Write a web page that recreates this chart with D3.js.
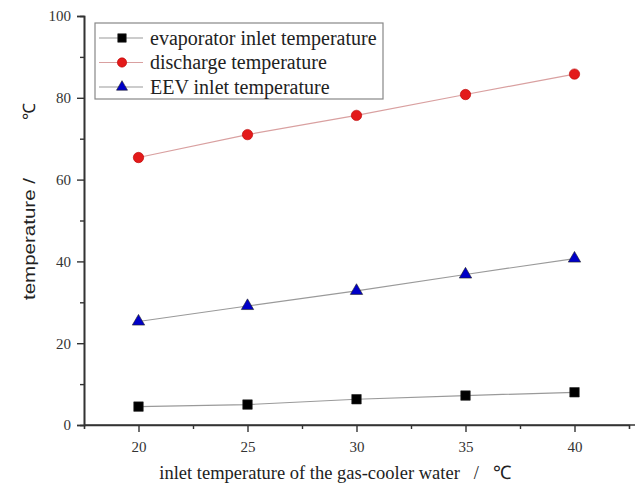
<!DOCTYPE html>
<meta charset="utf-8">
<style>
  body { margin: 0; background: #fff; }
  svg { display: block; }
</style>
<svg width="635" height="494"></svg>
<script src="https://cdn.jsdelivr.net/npm/d3@7"></script>
<script>

    var waterTemps = [20, 25, 30, 35, 40];
    var evaporatorInlet = [4.5, 5.0, 6.3, 7.2, 8.0];
    var discharge = [65.4, 71.0, 75.7, 80.8, 85.8];
    var eevInlet = [25.3, 29.1, 32.8, 36.8, 40.7];
    var seriesNames = ["evaporator inlet temperature", "discharge temperature", "EEV inlet temperature"];
    var xTicks = [20, 25, 30, 35, 40];
    var yTicks = [0, 20, 40, 60, 80, 100];

    var svg = d3.select("svg"),
        serif = "'Liberation Serif', 'Times New Roman', serif",
        sans = "'Liberation Sans', Arial, sans-serif";

    var x = d3.scaleLinear().domain([17.5, 42.5]).range([84, 629]);
    var y = d3.scaleLinear().domain([0, 100]).range([425, 16]);

    // axes, major + minor ticks
    var xAxis = svg.append("g").attr("transform", "translate(0,425)");
    xAxis.call(d3.axisBottom(x).tickValues(xTicks).tickSize(7).tickPadding(9).tickFormat(d3.format("d")));
    xAxis.append("g").call(d3.axisBottom(x).tickValues([22.5, 27.5, 32.5, 37.5]).tickSize(4).tickFormat(""));
    xAxis.select(".domain").attr("d", "M84,0H635");

    var yAxis = svg.append("g").attr("transform", "translate(84,0)");
    yAxis.call(d3.axisLeft(y).tickValues(yTicks).tickSize(7).tickPadding(6).tickFormat(d3.format("d")));
    yAxis.append("g").call(d3.axisLeft(y).tickValues([10, 30, 50, 70, 90]).tickSize(4).tickFormat(""));

    svg.selectAll(".domain").attr("stroke", "#333").attr("stroke-width", 1.6);
    svg.selectAll(".tick line").attr("stroke", "#333").attr("stroke-width", 1.4);
    svg.selectAll(".tick text").attr("font-family", serif).attr("font-size", 15).attr("fill", "#333");

    // axis titles
    svg.append("text")
        .attr("x", 335).attr("y", 479)
        .attr("text-anchor", "middle")
        .attr("font-family", serif).attr("font-size", 18.5).attr("fill", "#222")
        .attr("xml:space", "preserve")
        .text("inlet temperature of the gas-cooler water   /   \u2103");

    svg.append("text")
        .attr("transform", "translate(35,300) rotate(-90)")
        .attr("font-family", sans).attr("font-size", 17).attr("fill", "#222")
        .attr("textLength", 122).attr("lengthAdjust", "spacingAndGlyphs")
        .text("temperature /");

    svg.append("text")
        .attr("transform", "translate(35,111) rotate(-90)")
        .attr("text-anchor", "middle")
        .attr("font-family", serif).attr("font-size", 17).attr("fill", "#222")
        .text("\u2103");

    var series = [
        {name: seriesNames[0], values: evaporatorInlet, line: "#9a9a9a", fill: "#000", shape: d3.symbolSquare, size: 90},
        {name: seriesNames[1], values: discharge, line: "#d9a0a0", fill: "#e31a1a", shape: d3.symbolCircle, size: 85},
        {name: seriesNames[2], values: eevInlet, line: "#9a9a9a", fill: "#0000c8", shape: d3.symbolTriangle, size: 66}
    ];

    var line = d3.line()
        .x(function (d, i) { return x(waterTemps[i]); })
        .y(function (d) { return y(d); });

    series.forEach(function (s) {
        svg.append("path")
            .attr("d", line(s.values))
            .attr("fill", "none")
            .attr("stroke", s.line)
            .attr("stroke-width", 1.2);

        svg.append("g").selectAll("path")
            .data(s.values)
            .join("path")
            .attr("transform", function (d, i) { return "translate(" + x(waterTemps[i]) + "," + y(d) + ")"; })
            .attr("d", d3.symbol().type(s.shape).size(s.size))
            .attr("fill", s.fill)
            .attr("stroke", s.shape === d3.symbolCircle ? "#b00" : "#222")
            .attr("stroke-width", 0.6);
    });

    // legend
    var legend = svg.append("g").attr("transform", "translate(95,23)");
    legend.append("rect")
        .attr("width", 288).attr("height", 76)
        .attr("fill", "#fff").attr("stroke", "#888").attr("stroke-width", 1.2);

    series.forEach(function (s, i) {
        var row = legend.append("g").attr("transform", "translate(0," + (15 + i * 24.5) + ")");
        row.append("line").attr("x1", 4).attr("x2", 48).attr("stroke", s.line).attr("stroke-width", 1.2);
        row.append("path")
            .attr("transform", "translate(27,0)")
            .attr("d", d3.symbol().type(s.shape).size(s.size * 0.8))
            .attr("fill", s.fill)
            .attr("stroke", s.shape === d3.symbolCircle ? "#b00" : "#222")
            .attr("stroke-width", 0.6);
        row.append("text")
            .attr("x", 55).attr("dy", "0.33em")
            .attr("font-family", serif).attr("font-size", 20).attr("fill", "#222")
            .text(s.name);
    });

</script>
